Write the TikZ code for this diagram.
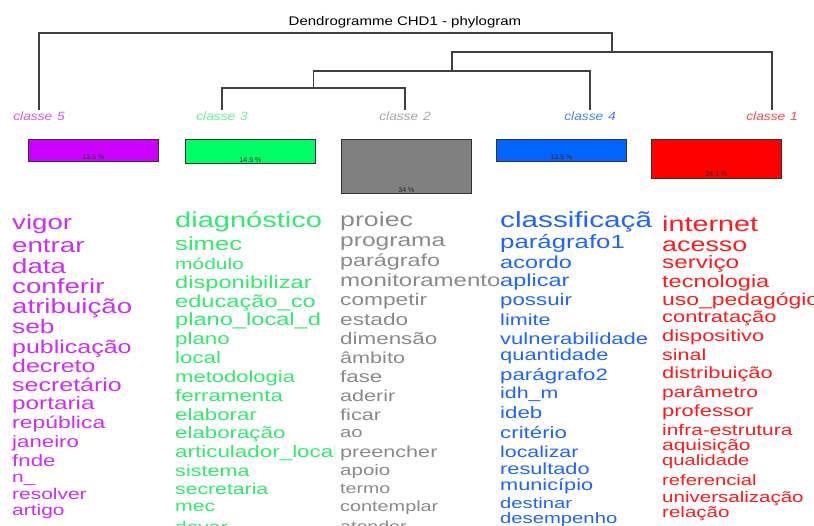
\documentclass[tikz,border=0pt]{standalone}
\usepackage{fontspec}
\usepackage{graphicx}
\setmainfont{Liberation Sans}
\setsansfont{Liberation Sans}
\definecolor{cfive}{HTML}{CC00FF}
\definecolor{cthree}{HTML}{00FF66}
\definecolor{ctwo}{HTML}{808080}
\definecolor{cfour}{HTML}{0066FF}
\definecolor{cone}{HTML}{FF0000}
\definecolor{tfive}{HTML}{CC2EF5}
\definecolor{tthree}{HTML}{30EC6A}
\definecolor{ttwo}{HTML}{8A8A8A}
\definecolor{tfour}{HTML}{1F64FF}
\definecolor{tone}{HTML}{FF1A1A}
\definecolor{lfive}{HTML}{D456F7}
\definecolor{lthree}{HTML}{66F29A}
\definecolor{ltwo}{HTML}{A6A6A6}
\definecolor{lfour}{HTML}{4A80FF}
\definecolor{lone}{HTML}{FF4848}
\newcommand\wrd[2]{\fontsize{#1}{#1}\selectfont\scalebox{1.35}[1]{#2}}
\newcommand\lbl[1]{\fontsize{12}{12}\selectfont\scalebox{1.15}[1]{\itshape classe\hspace{4pt}#1}}
\begin{document}
\begin{tikzpicture}[x=1pt,y=-1pt,
  dendro/.style={draw=black!75, line width=1.1pt},
  clab/.style={anchor=base, inner sep=1.5pt},
  cbox/.style={draw=black!80, line width=0.9pt, anchor=north west, minimum width=130pt, inner sep=0pt},
  pct/.style={font=\fontsize{7}{7}\selectfont, text=black!85, inner sep=0pt},
  word/.style={anchor=base west, inner sep=0pt}]
\useasboundingbox[fill=white] (0,0) rectangle (814,525);
% title
\node[anchor=base] (title) at (405,25) {\fontsize{12.5}{12.5}\selectfont\scalebox{1.2}[1]{Dendrogramme CHD1 - phylogram}};
% class labels
\node[clab, text=lfive] (l5) at (39,120) {\lbl{5}};
\node[clab, text=lthree] (l3) at (222,120) {\lbl{3}};
\node[clab, text=ltwo] (l2) at (405,120) {\lbl{2}};
\node[clab, text=lfour] (l4) at (590,120) {\lbl{4}};
\node[clab, text=lone] (l1) at (772,120) {\lbl{1}};
% dendrogram
\coordinate (j23) at (313.5,88);
\coordinate (j234) at (452,71);
\coordinate (j1234) at (612,52);
\coordinate (root) at (325.5,33);
\draw[dendro] (l3.north) |- (j23) -| (l2.north);
\draw[dendro] (j23) |- (j234) -| (l4.north);
\draw[dendro] (j234) |- (j1234) -| (l1.north);
\draw[dendro] (l5.north) |- (root) -| (j1234);
% boxes
\node[cbox, fill=cfive, minimum height=21.6pt] (b5) at (28,139) {};
\node[cbox, fill=cthree, minimum height=23.8pt] (b3) at (185,139) {};
\node[cbox, fill=ctwo, minimum height=54.4pt] (b2) at (341,139) {};
\node[cbox, fill=cfour, minimum height=21.6pt] (b4) at (496,139) {};
\node[cbox, fill=cone, minimum height=38.6pt] (b1) at (651,139) {};
\node[pct] (p5) at ([yshift=4pt]b5.south) {13.5 \%};
\node[pct] (p3) at ([yshift=4pt]b3.south) {14.9 \%};
\node[pct] (p2) at ([yshift=4pt]b2.south) {34 \%};
\node[pct] (p4) at ([yshift=4pt]b4.south) {13.5 \%};
\node[pct] (p1) at ([yshift=4pt]b1.south) {24.1 \%};
% column 5 (magenta)
\begin{scope}
\clip (0,200) rectangle (172,525);
\foreach \s/\y/\t [count=\i] in {20.5/229/vigor, 20.5/252/entrar, 20.5/273/data, 20.5/293/conferir, 20.5/313/atribuição, 19.5/333/seb, 18.5/353/publicação, 18.5/372/decreto, 18.5/391/secretário, 18/409/portaria, 17/428/república, 16.5/447/janeiro, 16.5/466/fnde, 15.5/482/n\_, 15.5/499/resolver, 15.5/515/artigo}
  \node[word, text=tfive] (wa\i) at (12,\y) {\wrd{\s}{\t}};
\end{scope}
% column 3 (green)
\begin{scope}
\clip (172,200) rectangle (334,525);
\foreach \s/\y/\t [count=\i] in {21.5/227/diagnóstico, 19/250/simec, 15.5/269/módulo, 17.5/288/disponibilizar, 17.5/307/educação\_co, 17.5/325/plano\_local\_d, 16.5/344/plano, 16.5/363/local, 16.3/382/metodologia, 16.5/401/ferramenta, 16.5/420/elaborar, 16.5/438/elaboração, 16.6/457/articulador\_local, 16/476/sistema, 15.7/494/secretaria, 15.7/511/mec, 15.5/532/dever}
  \node[word, text=tthree] (wb\i) at (175,\y) {\wrd{\s}{\t}};
\end{scope}
% column 2 (gray)
\begin{scope}
\clip (334,200) rectangle (498,525);
\foreach \s/\y/\t [count=\i] in {19.8/226/proiec, 18.2/246/programa, 17.3/266/parágrafo, 17.8/286/monitoramento, 16.8/305/competir, 16.8/325/estado, 16.6/344/dimensão, 16/363/âmbito, 16.5/382/fase, 16/401/aderir, 16/420/ficar, 15/437/ao, 16/457/preencher, 15.2/475/apoio, 14.5/493/termo, 14.7/511/contemplar, 14.5/531/atender}
  \node[word, text=ttwo] (wc\i) at (340,\y) {\wrd{\s}{\t}};
\end{scope}
% column 4 (blue)
\begin{scope}
\clip (498,200) rectangle (651,525);
\foreach \s/\y/\t [count=\i] in {22/227/classificação, 19.1/248/parágrafo1, 17.4/268/acordo, 17.4/286/aplicar, 16.5/305/possuir, 16/325/limite, 16.3/344/vulnerabilidade, 16.2/360/quantidade, 16.5/380/parágrafo2, 15.8/398/idh\_m, 16.5/418/ideb, 16.5/438/critério, 15.8/457/localizar, 16.1/474/resultado, 16.1/490/município, 15/508/destinar, 15/523/desempenho}
  \node[word, text=tfour] (wd\i) at (500,\y) {\wrd{\s}{\t}};
\end{scope}
% column 1 (red)
\begin{scope}
\clip (651,200) rectangle (814,525);
\foreach \s/\y/\t [count=\i] in {21.3/231/internet, 19.9/251/acesso, 18/268/serviço, 17.4/287/tecnologia, 17/305/uso\_pedagógico, 16.2/322/contratação, 16.2/341/dispositivo, 15.9/360/sinal, 16.2/378/distribuição, 15.6/397/parâmetro, 16.2/416/professor, 15.5/435/infra-estrutura, 15.5/450/aquisição, 14.9/465/qualidade, 15/485/referencial, 15.2/502/universalização, 15.2/517/relação}
  \node[word, text=tone] (we\i) at (662,\y) {\wrd{\s}{\t}};
\end{scope}
\end{tikzpicture}
\end{document}
